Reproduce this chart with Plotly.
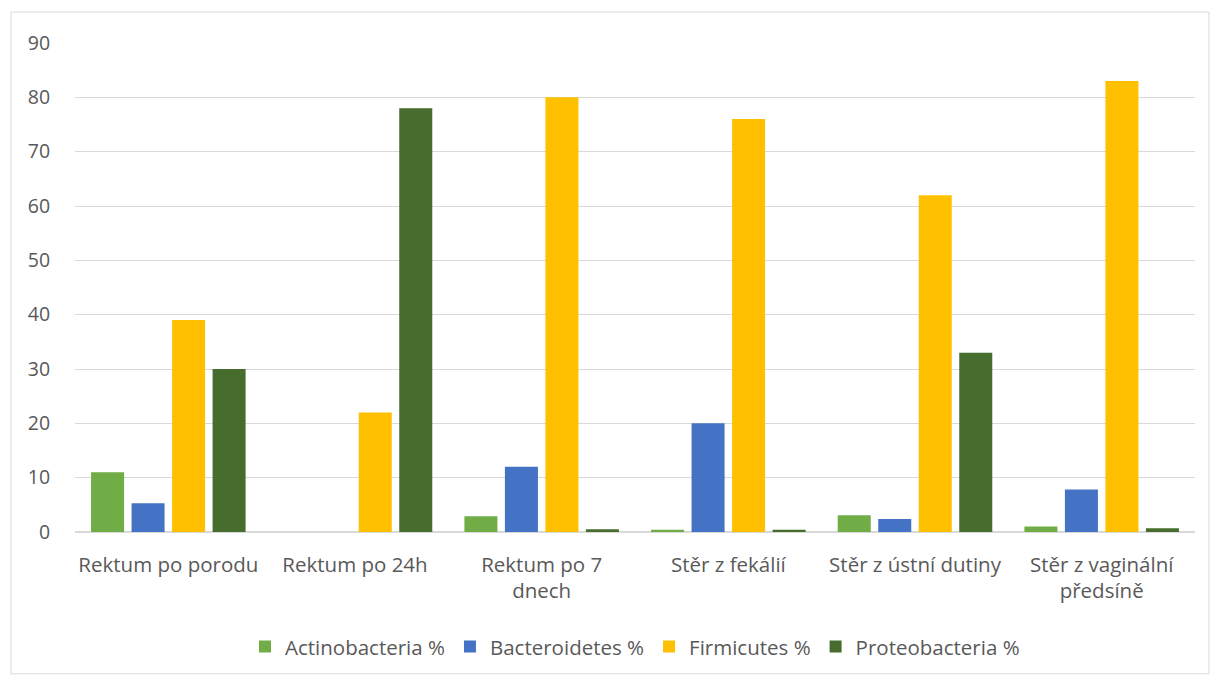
import plotly.graph_objects as go

categories = ["Rektum po porodu", "Rektum po 24h", "Rektum po 7<br>dnech",
              "Stěr z fekálií", "Stěr z ústní dutiny", "Stěr z vaginální<br>předsíně"]
actinobacteria = [11, 0, 2.9, 0.4, 3.1, 1.0]
bacteroidetes = [5.3, 0, 12, 20, 2.4, 7.8]
firmicutes = [39, 22, 80, 76, 62, 83]
proteobacteria = [30, 78, 0.5, 0.4, 33, 0.7]

series = [
    ("Actinobacteria %", actinobacteria, "#70AD47"),
    ("Bacteroidetes %", bacteroidetes, "#4472C4"),
    ("Firmicutes %", firmicutes, "#FFC000"),
    ("Proteobacteria %", proteobacteria, "#466C2E"),
]

fig = go.Figure()
for name, vals, col in series:
    fig.add_trace(go.Bar(x=categories, y=vals, name=name,
                         marker=dict(color=col, line=dict(width=0))))

font_family = "'Open Sans', sans-serif"
fig.update_layout(
    width=1212, height=677,
    margin=dict(l=75, r=17, t=43, b=144),
    paper_bgcolor="white", plot_bgcolor="white",
    barmode="group", bargap=0.132, bargroupgap=0.185,
    font=dict(family=font_family, size=19, color="#595959"),
    showlegend=True,
    legend=dict(orientation="h", x=0.5, xanchor="center", y=-0.232, yanchor="middle",
                font=dict(size=20.5, color="#595959"), itemwidth=30,
                tracegroupgap=0),
    xaxis=dict(showgrid=False, showline=True, linecolor="#D9D9D9", linewidth=1,
               ticks="", ticklabelstandoff=14,
               tickfont=dict(size=20.5, color="#595959")),
    yaxis=dict(range=[0, 90], dtick=10, showgrid=True, gridcolor="#D9D9D9",
               gridwidth=1, zeroline=True, zerolinecolor="#D9D9D9",
               showline=False, ticks="outside", ticklen=20, tickcolor="rgba(0,0,0,0)",
               tickfont=dict(size=19.5, color="#595959")),
    shapes=[dict(type="rect", xref="paper", yref="paper",
                 x0=-0.0571, x1=1.0125, y0=-0.29, y1=1.0633,
                 line=dict(color="#D9D9D9", width=1), fillcolor="rgba(0,0,0,0)",
                 layer="below")],
)

fig.write_html("out.html")
